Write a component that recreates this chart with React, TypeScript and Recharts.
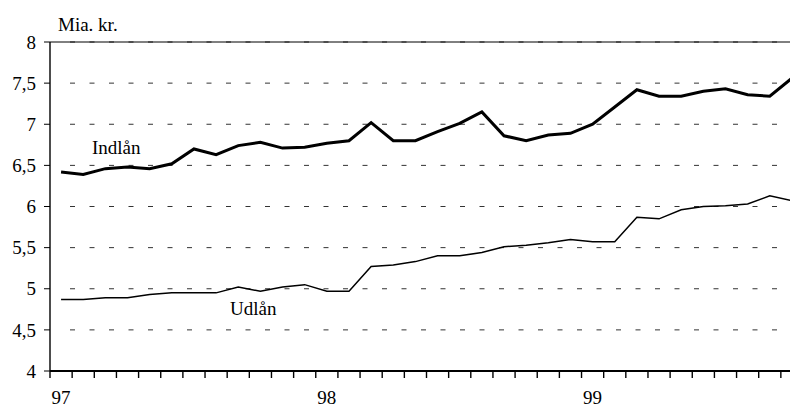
import { CartesianGrid, Line, LineChart, ReferenceLine, XAxis, YAxis } from "recharts"

// monthly, jan 97 - okt 99
const years = ["97", "98", "99"]
const monthNames = ["01", "02", "03", "04", "05", "06", "07", "08", "09", "10", "11", "12"]
const months = years.flatMap((y) => monthNames.map((m) => `${y}-${m}`)).slice(0, 34)

const indlaan = [
  6.42, 6.39, 6.46, 6.48, 6.46, 6.52, 6.7, 6.63, 6.74, 6.78, 6.71, 6.72,
  6.77, 6.8, 7.02, 6.8, 6.8, 6.91, 7.01, 7.15, 6.86, 6.8, 6.87, 6.89,
  7.0, 7.21, 7.42, 7.34, 7.34, 7.4, 7.43, 7.36, 7.34, 7.56,
]
const udlaan = [
  4.87, 4.87, 4.89, 4.89, 4.93, 4.95, 4.95, 4.95, 5.02, 4.97, 5.02, 5.05,
  4.97, 4.97, 5.27, 5.29, 5.33, 5.4, 5.4, 5.44, 5.51, 5.53, 5.56, 5.6,
  5.57, 5.57, 5.87, 5.85, 5.96, 6.0, 6.01, 6.03, 6.13, 6.07,
]
const yTicks = [4, 4.5, 5, 5.5, 6, 6.5, 7, 7.5, 8]

// each month sits in the middle of its slot; ticks mark slot boundaries
const data = months.map((m, i) => ({ month: m, pos: i + 0.5, indlaan: indlaan[i], udlaan: udlaan[i] }))
const xTicks = months.map((_, i) => i).concat(months.length)

const FONT = "Liberation Serif, Times New Roman, Times, serif"

function GridLine(props: any) {
  const { x1, x2, y1, y2 } = props
  return (
    <line x1={x1 + 20} x2={x2} y1={y1} y2={y2} stroke="#333" strokeWidth={1} strokeDasharray="5 14.5" />
  )
}

const textStyle: React.CSSProperties = {
  position: "absolute",
  fontFamily: FONT,
  fontSize: 19,
  lineHeight: 1,
  color: "#000",
  whiteSpace: "nowrap",
}

export default function App() {
  return (
    <div style={{ position: "absolute", left: 0, top: 0, width: 790, height: 407, overflow: "hidden", background: "#fff" }}>
      <LineChart width={803} height={407} data={data} margin={{ top: 42, right: 0, bottom: 0, left: 0 }}>
        <CartesianGrid vertical={false} horizontal={GridLine as any} />
        <XAxis
          dataKey="pos"
          type="number"
          domain={[0, months.length]}
          ticks={xTicks}
          interval={0}
          height={36}
          tickSize={7}
          tickMargin={13}
          tickFormatter={(v: number) => (v % 12 === 0 && v < months.length ? months[v].slice(0, 2) : "")}
          tick={{ fill: "#000", fontSize: 19, fontFamily: FONT, dx: 11 }}
          tickLine={{ stroke: "#000", strokeWidth: 1.4 }}
          axisLine={{ stroke: "#000", strokeWidth: 2.2 }}
        />
        <YAxis
          type="number"
          domain={[4, 8]}
          ticks={yTicks}
          width={50}
          tickSize={6}
          tickMargin={8}
          tickFormatter={(v: number) => String(v).replace(".", ",")}
          tick={{ fill: "#000", fontSize: 19, fontFamily: FONT }}
          tickLine={{ stroke: "#000", strokeWidth: 1 }}
          axisLine={{ stroke: "#000", strokeWidth: 1.4 }}
        />
        <ReferenceLine y={8} stroke="#000" strokeWidth={1} />
        <Line type="linear" dataKey="udlaan" stroke="#000" strokeWidth={1.5} dot={false} isAnimationActive={false} />
        <Line type="linear" dataKey="indlaan" stroke="#000" strokeWidth={3} dot={false} isAnimationActive={false} />
      </LineChart>
      <div style={{ ...textStyle, left: 58, top: 15 }}>Mia. kr.</div>
      <div style={{ ...textStyle, left: 92, top: 138 }}>Indlån</div>
      <div style={{ ...textStyle, left: 230, top: 299 }}>Udlån</div>
    </div>
  )
}
